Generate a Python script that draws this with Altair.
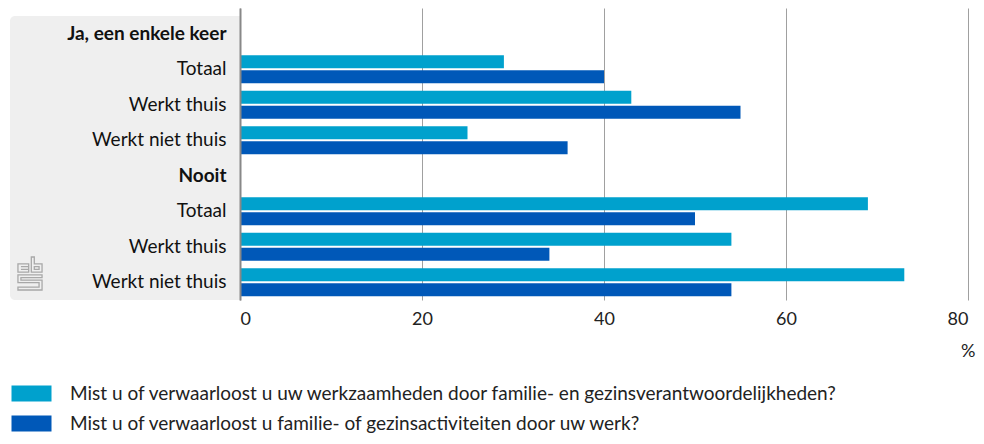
import altair as alt
import pandas as pd

groups = ["Ja, een enkele keer", "Nooit"]
subgroups = ["Totaal", "Werkt thuis", "Werkt niet thuis"]
series = [
    "Mist u of verwaarloost u uw werkzaamheden door familie- en gezinsverantwoordelijkheden?",
    "Mist u of verwaarloost u familie- of gezinsactiviteiten door uw werk?",
]
werk_door_gezin = [29, 43, 25, 69, 54, 73]
gezin_door_werk = [40, 55, 36, 50, 34, 54]
colors = ["#00a1cd", "#0058b8"]

keys = []
rows = []
i = 0
for gi, g in enumerate(groups):
    keys.append(f"{gi}h|{g}")
    for si, s in enumerate(subgroups):
        k = f"{gi}{si}|{s}"
        keys.append(k)
        rows.append({"key": k, "series": series[0], "value": werk_door_gezin[i]})
        rows.append({"key": k, "series": series[1], "value": gezin_door_werk[i]})
        i += 1
df = pd.DataFrame(rows)

FONT = "Lato"
bold_expr = "indexof(['Ja, een enkele keer','Nooit'], split(datum.value,'|')[1]) >= 0 ? 'bold' : 'normal'"

one = pd.DataFrame({"a": [1]})

panel = alt.Chart(one).mark_rect(
    color="#efefef", cornerRadiusTopLeft=5, cornerRadiusBottomLeft=5
).encode(
    x=alt.value(-230), x2=alt.value(0), y=alt.value(8), y2=alt.value(292)
)

logo_path = (
    "M-0.73,-0.58H-0.08V-0.08H-0.73Z "
    "M-0.55,-0.42H-0.08V-0.25H-0.55 "
    "M0.08,-1H0.26V-0.58H0.73V-0.08H0.08Z "
    "M0.26,-0.42H0.55V-0.25H0.26Z "
    "M0.73,0.08H-0.73V0.55H0.55V0.82H-0.73V1H0.73V0.4H-0.55V0.25H0.73Z"
)
logo = alt.Chart(one).mark_point(
    shape=logo_path, filled=False, stroke="#a8a8a8", strokeWidth=1.3, opacity=1
).encode(x=alt.value(-210), y=alt.value(265.5), size=alt.value(1089))

bars = alt.Chart(df).mark_bar().encode(
    x=alt.X(
        "value:Q",
        scale=alt.Scale(domain=[0, 80], nice=False),
        axis=alt.Axis(
            values=[0, 20, 40, 60, 80], grid=True, gridColor="#a0a0a0", gridWidth=1,
            domain=False, ticks=False, labelPadding=10, labelFontSize=18,
            labelColor="#222", labelFont=FONT, title="%", titleFont=FONT,
            titleFontSize=18, titleFontWeight="normal", titleColor="#222",
            titleX=735, titleY=51, titleAlign="right", titleBaseline="middle",
        ),
    ),
    y=alt.Y(
        "key:N",
        scale=alt.Scale(domain=keys, paddingInner=0, paddingOuter=0.1127, align=1),
        axis=alt.Axis(
            title=None, ticks=False, labelPadding=14, labelFontSize=19,
            labelFont=FONT, labelColor="#111",
            labelExpr="split(datum.value,'|')[1]",
            labelFontWeight=alt.expr(bold_expr),
            domainColor="#888", domainWidth=2, zindex=1, grid=False,
        ),
    ),
    yOffset=alt.YOffset(
        "series:N",
        scale=alt.Scale(domain=series, paddingInner=0.1333, paddingOuter=0.25),
    ),
    color=alt.Color(
        "series:N",
        scale=alt.Scale(domain=series, range=colors),
        legend=alt.Legend(
            title=None, orient="none", legendX=-218, legendY=376,
            symbolType="M-2.5,-1H2.5V1H-2.5Z", symbolSize=256, symbolStrokeWidth=0,
            labelFontSize=19, labelFont=FONT, labelColor="#222", labelOffset=29,
            rowPadding=10, labelLimit=950,
        ),
    ),
)

chart = alt.layer(panel, logo, bars).properties(
    width=728, height=292,
    autosize=alt.AutoSizeParams(type="none"),
    padding={"left": 232, "top": 0, "right": 8, "bottom": 136},
).configure_view(stroke=None)

chart.save("out.html", embed_options={"renderer": "svg", "actions": False})
